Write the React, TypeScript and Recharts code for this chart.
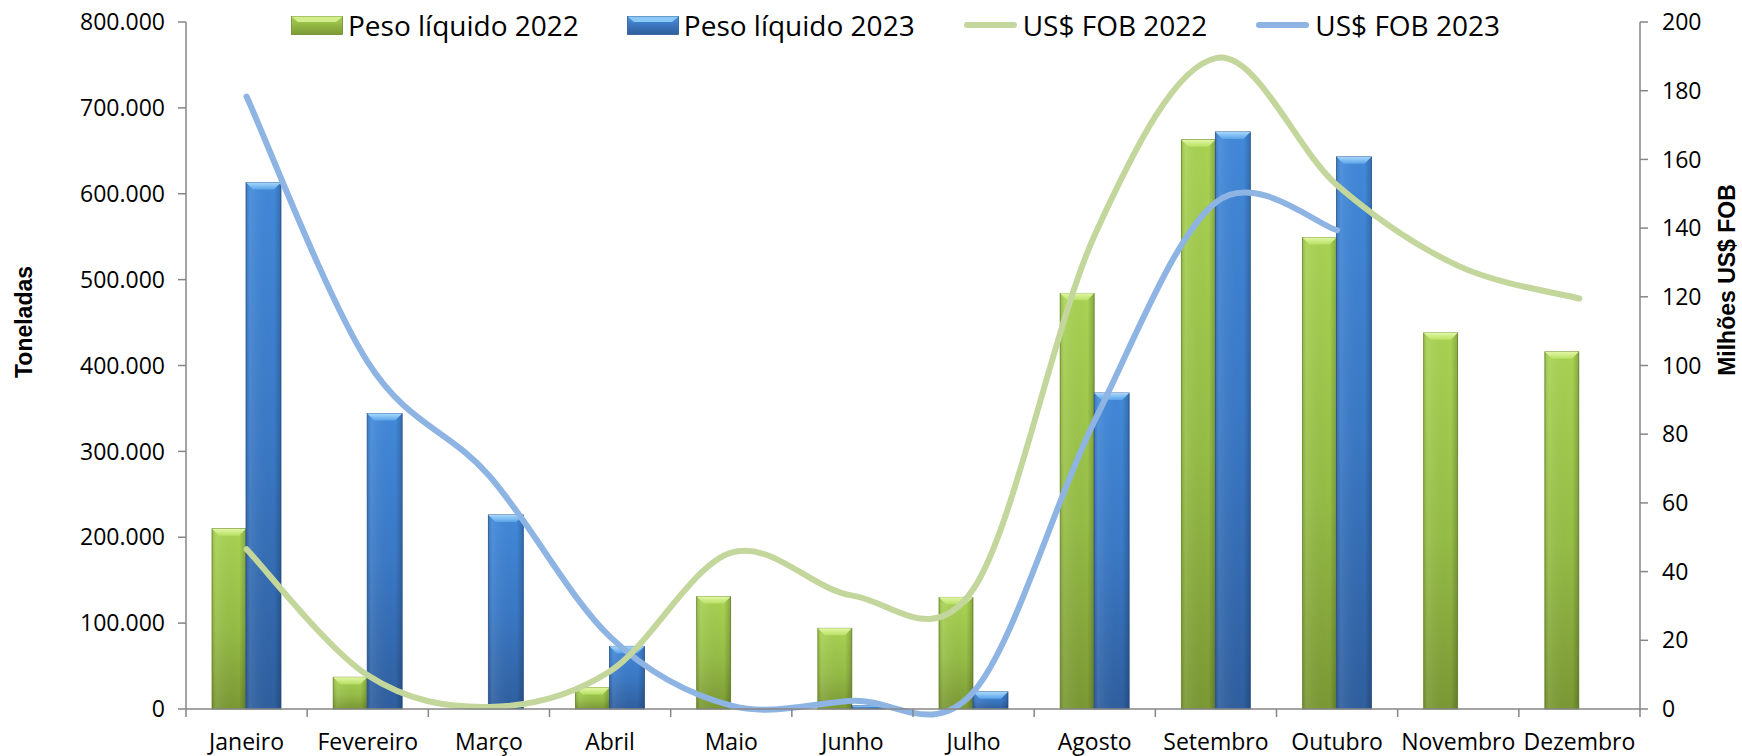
import { Bar, ComposedChart, Line, XAxis, YAxis } from "recharts";

const meses = ["Janeiro", "Fevereiro", "Março", "Abril", "Maio", "Junho", "Julho", "Agosto", "Setembro", "Outubro", "Novembro", "Dezembro"];
const peso2022 = [210000, 37000, 0, 25000, 131000, 94000, 130000, 484000, 663000, 549000, 438000, 416000];
const peso2023 = [613000, 344000, 226000, 73000, 0, 4000, 20000, 368000, 672000, 643000, null, null];
const fob2022 = [46.5, 9.8, 0.6, 11, 45.5, 33, 35, 138, 189.5, 152.5, 129, 119.5];
const fob2023 = [178.3, 101, 68, 21, 1, 2.4, 5, 84, 147.5, 139.4, null, null];
const ticksToneladas = [0, 100000, 200000, 300000, 400000, 500000, 600000, 700000, 800000];
const ticksFob = [0, 20, 40, 60, 80, 100, 120, 140, 160, 180, 200];

const rows = meses.map((mes, i) => ({
  mes,
  peso2022: peso2022[i],
  peso2023: peso2023[i],
  fob2022: fob2022[i],
  fob2023: fob2023[i],
}));

const W = 1742;
const H = 756;
const LEFT = 186;
const RIGHT = 1640;
const BOTTOM = 709;
const BAND = (RIGHT - LEFT) / 12;
const AXIS = "#868686";
const FONT = "'Open Sans', sans-serif";

// milhares separados por ponto, como no Excel pt-BR
const fmt = (v: number) => String(v).replace(/\B(?=(\d{3})+(?!\d))/g, ".");

// suavização parecida com a do Excel (Catmull-Rom)
const excelCurve = (context: any) => {
  let pts: number[][] = [];
  return {
    areaStart() {},
    areaEnd() {},
    lineStart() {
      pts = [];
    },
    lineEnd() {
      if (!pts.length) return;
      context.moveTo(pts[0][0], pts[0][1]);
      for (let i = 0; i < pts.length - 1; i++) {
        const p0 = pts[i - 1] || pts[i];
        const p1 = pts[i];
        const p2 = pts[i + 1];
        const p3 = pts[i + 2] || p2;
        context.bezierCurveTo(
          p1[0] + (p2[0] - p0[0]) / 6,
          p1[1] + (p2[1] - p0[1]) / 6,
          p2[0] - (p3[0] - p1[0]) / 6,
          p2[1] - (p3[1] - p1[1]) / 6,
          p2[0],
          p2[1]
        );
      }
    },
    point(x: number, y: number) {
      pts.push([+x, +y]);
    },
  };
};

const tones: Record<string, { body: string; bevel: string; edge: string }> = {
  green: { body: "url(#g-body)", bevel: "url(#g-bevel)", edge: "#6b8a2c" },
  blue: { body: "url(#b-body)", bevel: "url(#b-bevel)", edge: "#2b5792" },
};

function BevelBar(props: any) {
  const { x, y, width, height, tone } = props;
  if (!height || height <= 0) return null;
  const t = tones[tone];
  const b = Math.min(7, height / 2);
  return (
    <g>
      <rect x={x} y={y} width={width} height={height} fill={t.body} stroke={t.edge} strokeWidth={0.8} />
      <rect x={x} y={y} width={width} height={height} fill="url(#side-shade)" />
      <polygon
        points={`${x},${y} ${x + width},${y} ${x + width - b},${y + b} ${x + b},${y + b}`}
        fill={t.bevel}
      />
    </g>
  );
}

function MonthTick(props: any) {
  const { x, payload, index } = props;
  const right = x + BAND / 2;
  return (
    <g>
      {index === 0 && <line x1={x - BAND / 2} y1={BOTTOM} x2={x - BAND / 2} y2={BOTTOM + 8} stroke={AXIS} strokeWidth={1.5} />}
      <line x1={right} y1={BOTTOM} x2={right} y2={BOTTOM + 8} stroke={AXIS} strokeWidth={1.5} />
      <text x={x} y={BOTTOM + 41} textAnchor="middle" fontSize={23} fontFamily={FONT} fill="#000">
        {payload.value}
      </text>
    </g>
  );
}

function AxisTitle({ x, y, text }: { x: number; y: number; text: string }) {
  return (
    <text
      x={x}
      y={y}
      transform={`rotate(-90, ${x}, ${y})`}
      textAnchor="middle"
      dominantBaseline="central"
      fontSize={23}
      fontWeight="bold"
      fontFamily="'Liberation Sans', Arial, sans-serif"
      fill="#000"
    >
      {text}
    </text>
  );
}

function BarSwatch({ tone }: { tone: string }) {
  const t = tones[tone];
  return (
    <svg width={52} height={19} style={{ display: "block" }}>
      <defs>
        <linearGradient id={`leg-${tone}`} x1="0" y1="0" x2="0" y2="1">
          <stop offset="0%" stopColor={tone === "green" ? "#a9d353" : "#4a8fdc"} />
          <stop offset="100%" stopColor={tone === "green" ? "#7c9a35" : "#2e5e9e"} />
        </linearGradient>
      </defs>
      <rect x={0.5} y={0.5} width={51} height={18} fill={`url(#leg-${tone})`} stroke={t.edge} strokeWidth={0.8} />
      <polygon points="0.5,0.5 51.5,0.5 45,6 7,6" fill={tone === "green" ? "#d2ee8c" : "#8cc8f6"} />
    </svg>
  );
}

function LineSwatch({ color }: { color: string }) {
  return (
    <svg width={55} height={12} style={{ display: "block" }}>
      <line x1={4} y1={6} x2={51} y2={6} stroke={color} strokeWidth={6} strokeLinecap="round" />
    </svg>
  );
}

const legendItems = [
  { label: "Peso líquido 2022", swatch: <BarSwatch tone="green" /> },
  { label: "Peso líquido 2023", swatch: <BarSwatch tone="blue" /> },
  { label: "US$ FOB 2022", swatch: <LineSwatch color="#c3d69b" /> },
  { label: "US$ FOB 2023", swatch: <LineSwatch color="#8eb4e3" /> },
];

export default function App() {
  return (
    <div style={{ position: "absolute", left: 0, top: 0, width: W, height: H, background: "#fff", fontFamily: FONT }}>
      <ComposedChart width={W} height={H} data={rows} margin={{ top: 22, right: 0, bottom: 0, left: 0 }} barGap={0}>
        <defs>
          <linearGradient id="g-body" x1="0" y1="0" x2="0" y2="1">
            <stop offset="0%" stopColor="#a9d353" />
            <stop offset="55%" stopColor="#96bd46" />
            <stop offset="100%" stopColor="#7b9934" />
          </linearGradient>
          <linearGradient id="b-body" x1="0" y1="0" x2="0" y2="1">
            <stop offset="0%" stopColor="#4289da" />
            <stop offset="50%" stopColor="#3a79c6" />
            <stop offset="100%" stopColor="#2f5f9f" />
          </linearGradient>
          <linearGradient id="g-bevel" x1="0" y1="0" x2="0" y2="1">
            <stop offset="0%" stopColor="#e2f7a6" />
            <stop offset="100%" stopColor="#b9e064" />
          </linearGradient>
          <linearGradient id="b-bevel" x1="0" y1="0" x2="0" y2="1">
            <stop offset="0%" stopColor="#a6d8fb" />
            <stop offset="100%" stopColor="#5aa3ea" />
          </linearGradient>
          <linearGradient id="side-shade" x1="0" y1="0" x2="1" y2="0">
            <stop offset="0%" stopColor="#000" stopOpacity={0.12} />
            <stop offset="12%" stopColor="#fff" stopOpacity={0.08} />
            <stop offset="80%" stopColor="#000" stopOpacity={0} />
            <stop offset="100%" stopColor="#000" stopOpacity={0.2} />
          </linearGradient>
        </defs>
        <XAxis
          dataKey="mes"
          height={H - BOTTOM}
          interval={0}
          axisLine={{ stroke: AXIS, strokeWidth: 1.5 }}
          tickLine={false}
          tick={<MonthTick />}
        />
        <YAxis
          yAxisId="left"
          width={LEFT}
          domain={[0, 800000]}
          ticks={ticksToneladas}
          tickFormatter={fmt}
          tickSize={8}
          tickMargin={13}
          axisLine={{ stroke: AXIS, strokeWidth: 1.5 }}
          tickLine={{ stroke: AXIS, strokeWidth: 1.5 }}
          tick={{ fontSize: 23, fill: "#000", fontFamily: FONT }}
          label={{ content: () => <AxisTitle x={24} y={322} text="Toneladas" /> }}
        />
        <YAxis
          yAxisId="right"
          orientation="right"
          width={W - RIGHT}
          domain={[0, 200]}
          ticks={ticksFob}
          tickSize={8}
          tickMargin={14}
          axisLine={{ stroke: AXIS, strokeWidth: 1.5 }}
          tickLine={{ stroke: AXIS, strokeWidth: 1.5 }}
          tick={{ fontSize: 23, fill: "#000", fontFamily: FONT }}
          label={{ content: () => <AxisTitle x={1727} y={280} text="Milhões US$ FOB" /> }}
        />
        <Bar yAxisId="left" dataKey="peso2022" barSize={34} isAnimationActive={false} shape={(p: any) => <BevelBar {...p} tone="green" />} />
        <Bar yAxisId="left" dataKey="peso2023" barSize={35} isAnimationActive={false} shape={(p: any) => <BevelBar {...p} tone="blue" />} />
        <Line yAxisId="right" dataKey="fob2023" type={excelCurve as any} stroke="#8eb4e3" strokeWidth={6} strokeLinecap="round" dot={false} activeDot={false} isAnimationActive={false} />
        <Line yAxisId="right" dataKey="fob2022" type={excelCurve as any} stroke="#c3d69b" strokeWidth={6} strokeLinecap="round" dot={false} activeDot={false} isAnimationActive={false} />
      </ComposedChart>
      <div style={{ position: "absolute", left: 291, top: 5, display: "flex", alignItems: "center", gap: 48, fontSize: 28, lineHeight: "40px", color: "#000" }}>
        {legendItems.map((it) => (
          <div key={it.label} style={{ display: "flex", alignItems: "center", gap: 5 }}>
            {it.swatch}
            <span>{it.label}</span>
          </div>
        ))}
      </div>
    </div>
  );
}
